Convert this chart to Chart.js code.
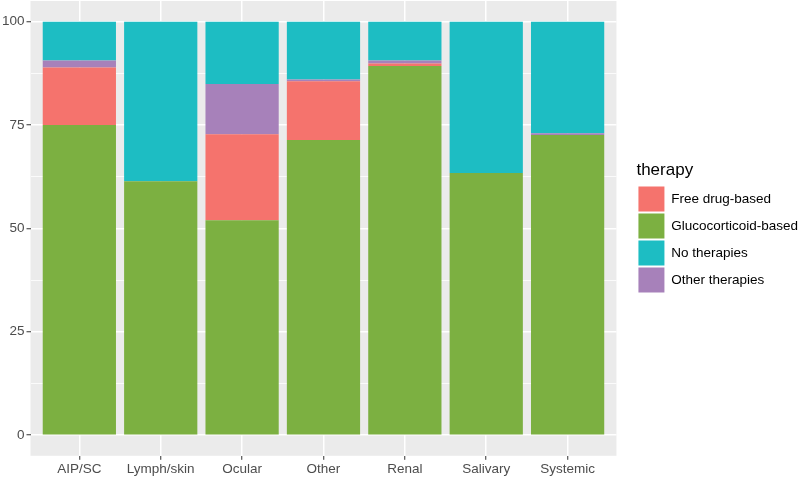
<!DOCTYPE html>
<html>
<head>
<meta charset="utf-8">
<script src="https://cdn.jsdelivr.net/npm/chart.js@4"></script>
<style>
  html, body { margin: 0; padding: 0; background: #fff; }
  #wrap { width: 800px; height: 480px; }
</style>
</head>
<body>
<div id="wrap"><canvas id="chartCanvas"></canvas></div>
<script>
// values (percent of each bar)
const categories = ["AIP/SC", "Lymph/skin", "Ocular", "Other", "Renal", "Salivary", "Systemic"];
const glucocorticoid = [75.0, 61.4, 52.0, 71.4, 89.3, 63.4, 72.6];
const freeDrug = [13.9, 0, 20.8, 14.2, 0.6, 0, 0];
const otherTherapies = [1.7, 0, 12.1, 0.4, 0.7, 0, 0.4];
const noTherapies = [9.4, 38.6, 15.1, 14.0, 9.4, 36.6, 27.0];
const yTicks = [0, 12.5, 25, 37.5, 50, 62.5, 75, 87.5, 100];

const FONT = "'Liberation Sans', Arial, sans-serif";

function toPoints(values) {
    return values.map((v, i) => ({ x: i, y: v }));
}

function isMajor(ctx) {
    return ctx.tick && ctx.tick.value % 25 === 0;
}

// no extra room for the end labels, the panel is already expanded
function noEdgePadding(scale) {
    scale.paddingTop = 0;
    scale.paddingBottom = 0;
    scale.paddingLeft = 0;
    scale.paddingRight = 0;
}

// grey ggplot panel behind grid and bars
const panelBackground = {
    id: "panelBackground",
    beforeDraw(chart) {
        const { ctx, chartArea } = chart;
        ctx.save();
        ctx.fillStyle = "#EBEBEB";
        ctx.fillRect(chartArea.left, chartArea.top, chartArea.right - chartArea.left, chartArea.bottom - chartArea.top);
        ctx.restore();
    }
};

new Chart(document.getElementById("chartCanvas"), {
    type: "bar",
    data: {
        datasets: [
            { label: "Glucocorticoid-based", data: toPoints(glucocorticoid), backgroundColor: "#7CB041" },
            { label: "Free drug-based", data: toPoints(freeDrug), backgroundColor: "#F5736D" },
            { label: "Other therapies", data: toPoints(otherTherapies), backgroundColor: "#A781BA" },
            { label: "No therapies", data: toPoints(noTherapies), backgroundColor: "#1DBDC3" }
        ]
    },
    options: {
        responsive: true,
        maintainAspectRatio: false,
        animation: false,
        borderWidth: 0,
        barPercentage: 0.9,
        categoryPercentage: 1.0,
        layout: { padding: { left: 0, right: -8, top: 1, bottom: 2 } },
        scales: {
            x: {
                type: "linear",
                stacked: true,
                offset: false,
                min: -0.6,
                max: 6.6,
                afterBuildTicks: scale => {
                    scale.ticks = categories.map((c, i) => ({ value: i }));
                },
                afterFit: noEdgePadding,
                ticks: {
                    autoSkip: false,
                    maxRotation: 0,
                    padding: 1,
                    color: "#4D4D4D",
                    font: { family: FONT, size: 13.5 },
                    callback: v => categories[v]
                },
                grid: { offset: false, color: "#FFFFFF", lineWidth: 1.5, tickLength: 4, tickColor: "#333333", tickWidth: 1 },
                border: { display: false }
            },
            y: {
                stacked: true,
                min: -5,
                max: 105,
                afterBuildTicks: scale => {
                    scale.ticks = yTicks.map(v => ({ value: v }));
                },
                afterFit: noEdgePadding,
                ticks: {
                    autoSkip: false,
                    padding: 2,
                    color: "#4D4D4D",
                    font: { family: FONT, size: 13.5 },
                    callback: v => (v % 25 === 0 ? String(v) : "")
                },
                grid: {
                    color: "#FFFFFF",
                    lineWidth: ctx => (isMajor(ctx) ? 1.5 : 0.8),
                    tickLength: 4,
                    tickColor: ctx => (isMajor(ctx) ? "#333333" : "rgba(0,0,0,0)"),
                    tickWidth: 1
                },
                border: { display: false }
            },
            // empty spacer between panel and legend
            gap: {
                type: "linear",
                axis: "y",
                position: "right",
                afterFit: scale => { scale.width = 20; },
                ticks: { display: false },
                grid: { display: false },
                border: { display: false }
            }
        },
        plugins: {
            tooltip: { enabled: false },
            legend: {
                position: "right",
                align: "center",
                fullSize: false,
                maxWidth: 220,
                title: {
                    display: true,
                    text: "therapy",
                    position: "start",
                    color: "#000000",
                    font: { family: FONT, size: 17 },
                    padding: { top: 0, bottom: 2 }
                },
                labels: {
                    boxWidth: 26,
                    boxHeight: 25,
                    padding: 2,
                    color: "#000000",
                    font: { family: FONT, size: 13.5 },
                    sort: (a, b) => a.text.localeCompare(b.text)
                }
            }
        }
    },
    plugins: [panelBackground]
});
</script>
</body>
</html>
